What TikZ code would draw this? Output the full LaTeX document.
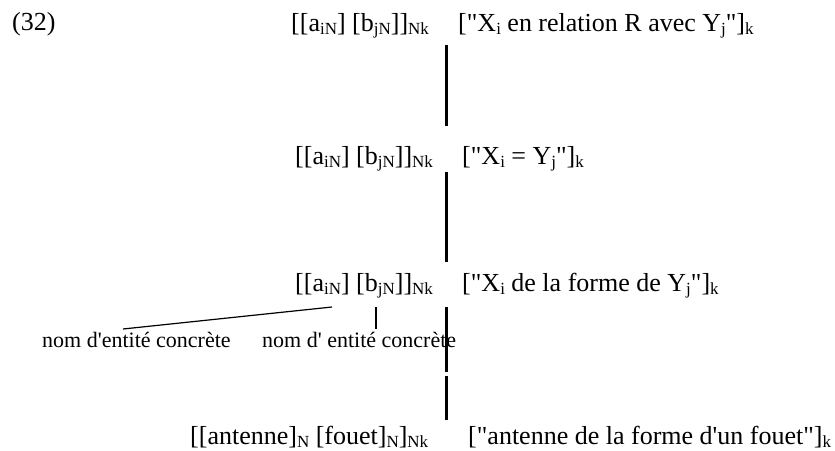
\documentclass[tikz,border=0pt]{standalone}
\usepackage{fontspec}
\newfontfamily\tnr{Liberation Serif}
\newcommand\sbx[1]{\raisebox{-3.5pt}{\fontsize{17}{17}\selectfont #1}}
\tikzset{
  txt/.style={font=\tnr\fontsize{26}{30}\selectfont, inner sep=0pt, anchor=base west},
  lab/.style={font=\tnr\fontsize{22}{26}\selectfont, inner sep=0pt, anchor=base west},
  bar/.style={line width=3pt},
  thinline/.style={line width=1.2pt}
}
\begin{document}
\begin{tikzpicture}
\useasboundingbox (0,0) rectangle (835pt,-450pt);
% texts
\node[txt] (num) at (12pt,-30pt) {(32)};
\node[txt] (l1a) at (291pt,-31pt) {[[a\sbx{iN}] [b\sbx{jN}]]\sbx{Nk}};
\node[txt] (l1b) at (458pt,-31pt) {["X\sbx{i} en relation R avec Y\sbx{j}"]\sbx{k}};
\node[txt] (l2a) at (295pt,-164pt) {[[a\sbx{iN}] [b\sbx{jN}]]\sbx{Nk}};
\node[txt] (l2b) at (462pt,-164pt) {["X\sbx{i} = Y\sbx{j}"]\sbx{k}};
\node[txt] (l3a) at (295pt,-291pt) {[[a\sbx{iN}] [b\sbx{jN}]]\sbx{Nk}};
\node[txt] (l3b) at (462pt,-291pt) {["X\sbx{i} de la forme de Y\sbx{j}"]\sbx{k}};
\node[lab] (n1) at (42pt,-347pt) {nom d'entité concrète};
\node[lab] (n2) at (262pt,-347pt) {nom d' entité concrète};
\node[txt] (l4a) at (190pt,-444pt) {[[antenne]\sbx{N} [fouet]\sbx{N}]\sbx{Nk}};
\node[txt] (l4b) at (468pt,-444pt) {["antenne de la forme d'un fouet"]\sbx{k}};
% connector ends
\coordinate (ca) at (332pt,-307pt);
\coordinate (na) at (123pt,-329pt);
\coordinate (cb) at (376pt,-307pt);
\coordinate (nb) at (376pt,-329pt);
\draw[thinline] (na) -- (ca);
\draw[thinline] (nb) -- (cb);
% vertical bars
\coordinate (b1t) at (446pt,-45pt);
\coordinate (b1b) at (446pt,-126pt);
\coordinate (b2t) at (446pt,-172pt);
\coordinate (b2b) at (446pt,-262pt);
\coordinate (b3t) at (446pt,-307pt);
\coordinate (b3m) at (446pt,-372pt);
\coordinate (b3n) at (446pt,-376pt);
\coordinate (b3b) at (446pt,-420pt);
\draw[bar] (b1t) -- (b1b);
\draw[bar] (b2t) -- (b2b);
\draw[bar] (b3t) -- (b3m);
\draw[bar] (b3n) -- (b3b);
\end{tikzpicture}
\end{document}
